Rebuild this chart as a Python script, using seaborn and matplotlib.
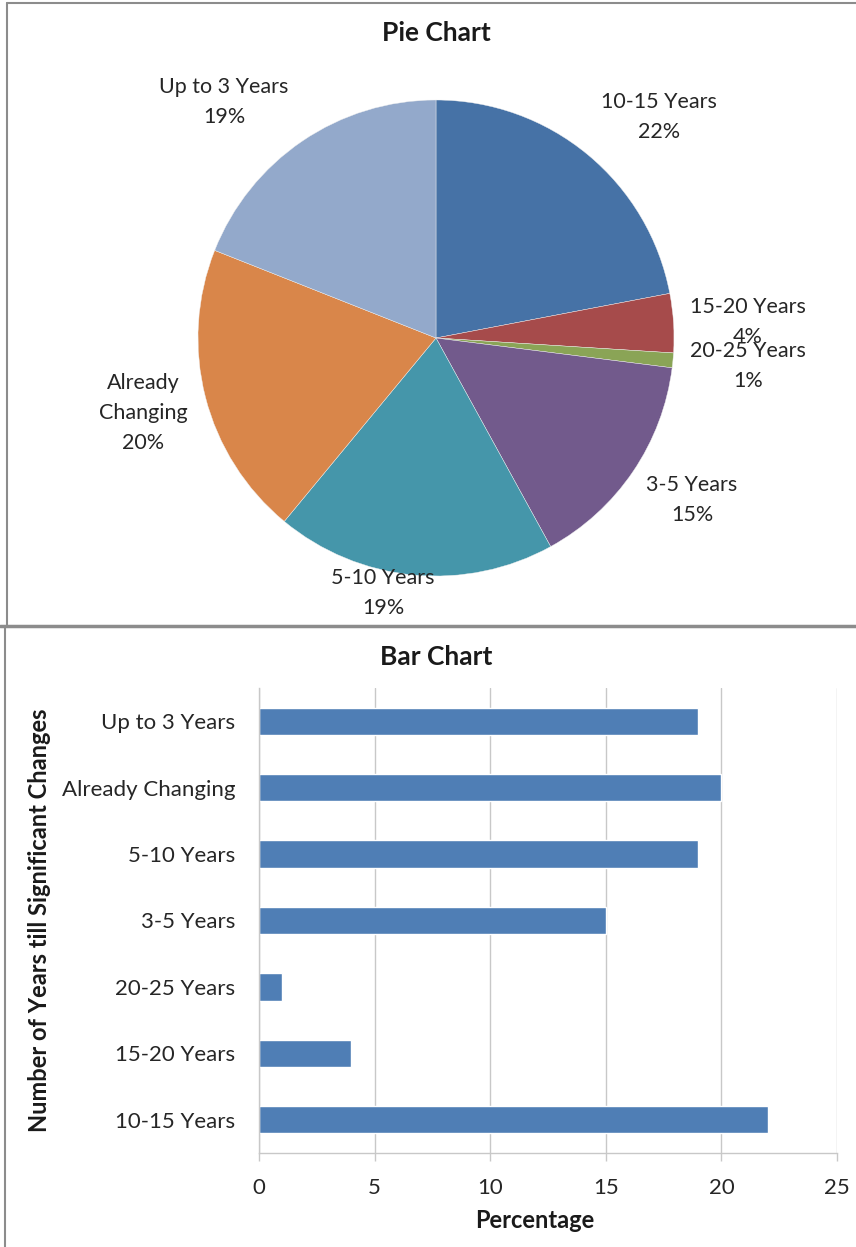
import matplotlib
matplotlib.use("Agg")
import matplotlib.pyplot as plt
import seaborn as sns
import pandas as pd
from matplotlib.lines import Line2D

# ---- data ----
pie_labels = ["10-15 Years", "15-20 Years", "20-25 Years", "3-5 Years",
              "5-10 Years", "Already Changing", "Up to 3 Years"]
pie_values = [22, 4, 1, 15, 19, 20, 19]
pie_colors = ["#4672A6", "#A64B4B", "#8AA456", "#725A8C",
              "#4596AA", "#D9864A", "#93A9CB"]

bar_categories = ["Up to 3 Years", "Already Changing", "5-10 Years", "3-5 Years",
                  "20-25 Years", "15-20 Years", "10-15 Years"]
bar_values = [19, 20, 19, 15, 1, 4, 22]
x_ticks = [0, 5, 10, 15, 20, 25]

sns.set_theme(style="white")
plt.rcParams['font.family'] = ['Lato', 'DejaVu Sans']

W, H = 856, 1247
fig = plt.figure(figsize=(W / 100, H / 100), dpi=100)

def fx(px):
    return px / W

def fy(py):
    return 1 - py / H

# panel borders
border = "#8C8C8C"
fig.add_artist(Line2D([fx(7), fx(856)], [fy(3), fy(3)], color=border, lw=1.5))
fig.add_artist(Line2D([fx(7), fx(7)], [fy(3), fy(626)], color=border, lw=1.5))
fig.add_artist(Line2D([fx(0), fx(856)], [fy(626), fy(626)], color=border, lw=2.5))
fig.add_artist(Line2D([fx(5), fx(5)], [fy(628), fy(1247)], color=border, lw=1.5))

# ---- pie ----
cx, cy, R = 436, 338, 238
ax1 = fig.add_axes([fx(cx - R), fy(cy + R), 2 * R / W, 2 * R / H])
ax1.pie(pie_values, colors=pie_colors, startangle=90, counterclock=False,
        radius=1, wedgeprops=dict(linewidth=0.3, edgecolor="#f0f0f0"))
ax1.set_xlim(-1, 1)
ax1.set_ylim(-1, 1)
ax1.set_aspect("auto")
ax1.axis("off")

label_texts = ["10-15 Years\n22%", "15-20 Years\n4%", "20-25 Years\n1%",
               "3-5 Years\n15%", "5-10 Years\n19%", "Already\nChanging\n20%",
               "Up to 3 Years\n19%"]
label_px = [(659, 117), (748, 322), (748, 366), (692, 500),
            (383, 593), (143, 413), (224, 102)]
for t, (px, py) in zip(label_texts, label_px):
    ax1.text((px - cx) / R, (cy - py) / R, t, ha="center", va="center",
             fontsize=15.5, color="#262626", linespacing=1.65, clip_on=False)

fig.text(fx(436), fy(33), "Pie Chart", ha="center", va="center",
         fontsize=19, fontweight="bold", color="#1a1a1a")

# ---- bar ----
L, Rr, T, B = 259, 837, 688, 1153
ax2 = fig.add_axes([fx(L), fy(B), (Rr - L) / W, (B - T) / H])
df = pd.DataFrame({"cat": bar_categories, "val": bar_values})
sns.barplot(data=df, y="cat", x="val", orient="h", color="#4F7EB5",
            saturation=1, width=0.41, ax=ax2, order=bar_categories)
ax2.set_xlim(0, 25)
ax2.set_ylim(6.5, -0.5)
ax2.set_xticks(x_ticks)
ax2.set_xticklabels([str(v) for v in x_ticks], fontsize=16, color="#262626")
ax2.tick_params(axis="y", labelsize=16, colors="#262626", length=0, pad=17)
ax2.tick_params(axis="x", length=6, width=1, color="#C8C8C8", pad=12,
                direction="out", bottom=True)
ax2.xaxis.grid(True, color="#C8C8C8", lw=1)
ax2.set_axisbelow(True)
for s in ["top", "right"]:
    ax2.spines[s].set_visible(False)
for s in ["left", "bottom"]:
    ax2.spines[s].set_color("#C8C8C8")
    ax2.spines[s].set_linewidth(1)
ax2.set_xlabel("")
ax2.set_ylabel("")
fig.text(fx(535), fy(1220), "Percentage", ha="center", va="center",
         fontsize=17, fontweight="bold", color="#1a1a1a")
fig.text(fx(40), fy(920), "Number of Years till Significant Changes",
         rotation=90, ha="center", va="center", fontsize=17,
         fontweight="bold", color="#1a1a1a")
fig.text(fx(436), fy(657), "Bar Chart", ha="center", va="center",
         fontsize=19, fontweight="bold", color="#1a1a1a")

fig.savefig("out.png", dpi=100)
